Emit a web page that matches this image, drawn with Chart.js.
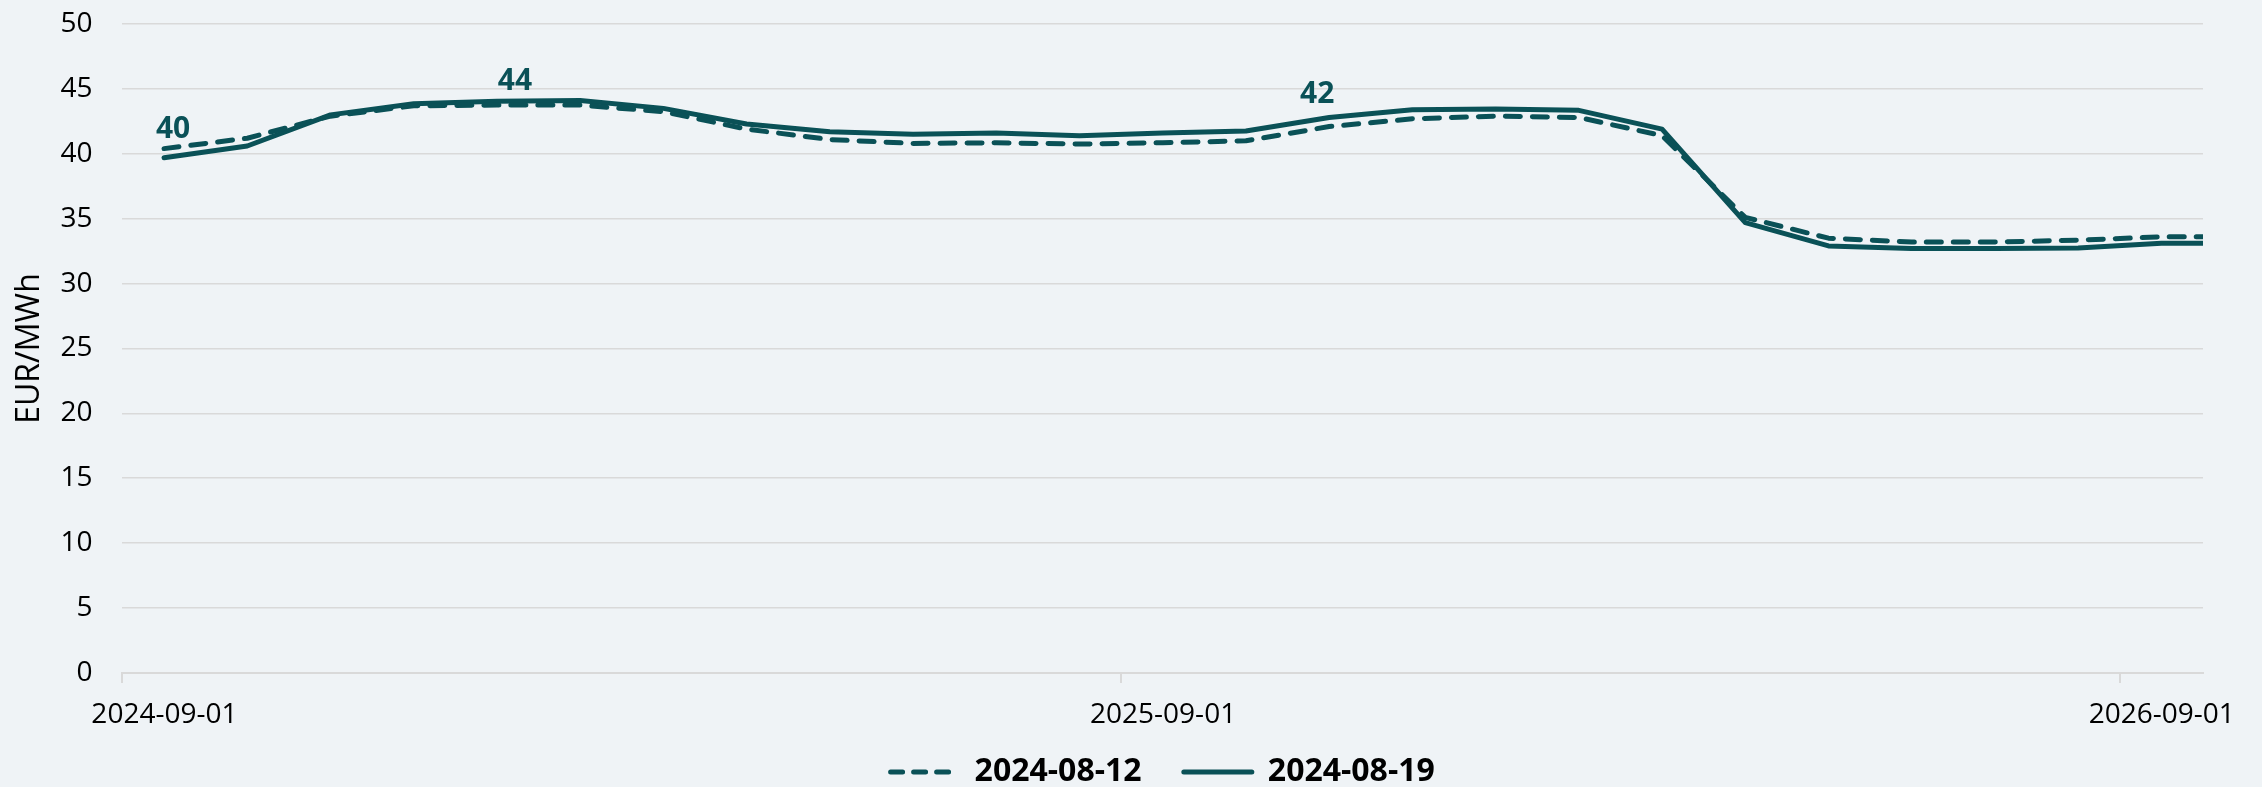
<!DOCTYPE html>
<html>
<head>
  <title>EUR/MWh forward curve</title>
  <script src="https://cdn.jsdelivr.net/npm/chart.js@4/dist/chart.umd.min.js"></script>
  <style>
    html, body { margin: 0; padding: 0; background: #eff3f6; }
    #wrap { width: 2262px; height: 787px; position: relative; }
  </style>
</head>
<body>
<div id="wrap"><canvas id="myCanvas"></canvas></div>
<script>
// ---------------- data ----------------
// one value per delivery month; the last month lies past the right edge and gets clipped
var months = [
  '2024-09-01', '2024-10-01', '2024-11-01', '2024-12-01', '2025-01-01', '2025-02-01',
  '2025-03-01', '2025-04-01', '2025-05-01', '2025-06-01', '2025-07-01', '2025-08-01',
  '2025-09-01', '2025-10-01', '2025-11-01', '2025-12-01', '2026-01-01', '2026-02-01',
  '2026-03-01', '2026-04-01', '2026-05-01', '2026-06-01', '2026-07-01', '2026-08-01',
  '2026-09-01', '2026-10-01'
];
var shownMonths = 25;
var xLabelMonths = ['2024-09-01', '2025-09-01', '2026-09-01'];
var curve0812 = [40.4, 41.2, 42.9, 43.7, 43.75, 43.75, 43.25, 41.9, 41.1, 40.8, 40.85, 40.75,
                 40.85, 41.0, 42.1, 42.7, 42.9, 42.8, 41.4, 35.1, 33.5, 33.2, 33.2, 33.35, 33.6, 33.6];
var curve0819 = [39.7, 40.6, 43.0, 43.85, 44.05, 44.1, 43.5, 42.3, 41.7, 41.5, 41.6, 41.4,
                 41.6, 41.75, 42.8, 43.4, 43.45, 43.35, 41.9, 34.7, 32.9, 32.7, 32.7, 32.75, 33.1, 33.1];
var seriesNames = ['2024-08-12', '2024-08-19'];
var labelPoints = [0, 4, 14];   // points of the 2024-08-12 curve that carry a value label
var yTicks = [0, 5, 10, 15, 20, 25, 30, 35, 40, 45, 50];

// ---------------- style ----------------
var teal = '#0a5157';
var gridCol = '#d9d9d9';
var fontName = '"Open Sans", sans-serif';

function toPoints(vals) {
  return vals.map(function(v, i) { return { x: i, y: v }; });
}

// value labels drawn above chosen points
var pointLabels = {
  id: 'pointLabels',
  afterDatasetsDraw: function(chart, args, opts) {
    var ctx = chart.ctx;
    var meta = chart.getDatasetMeta(0);
    ctx.save();
    ctx.font = 'bold 30px ' + fontName;
    ctx.fillStyle = teal;
    ctx.textAlign = 'center';
    ctx.textBaseline = 'middle';
    labelPoints.forEach(function(idx, k) {
      var pt = meta.data[idx];
      var sh = opts.shift[k];
      ctx.fillText(Math.round(curve0812[idx]).toString(), pt.x + sh[0], pt.y + sh[1]);
    });
    ctx.restore();
  }
};

var chart = new Chart(document.getElementById('myCanvas'), {
  type: 'line',
  data: {
    datasets: [{
      label: seriesNames[0],
      data: toPoints(curve0812),
      borderColor: teal,
      backgroundColor: teal,
      borderWidth: 5,
      borderDash: [15, 12],
      borderCapStyle: 'round',
      borderJoinStyle: 'round',
      pointRadius: 0,
      tension: 0
    }, {
      label: seriesNames[1],
      data: toPoints(curve0819),
      borderColor: teal,
      backgroundColor: teal,
      borderWidth: 5,
      borderCapStyle: 'round',
      borderJoinStyle: 'round',
      pointRadius: 0,
      tension: 0
    }]
  },
  options: {
    responsive: true,
    maintainAspectRatio: false,
    devicePixelRatio: 1,
    animation: false,
    layout: { padding: { left: 11, right: 59, top: 0, bottom: -11 } },
    plugins: {
      tooltip: { enabled: false },
      pointLabels: { shift: [[9, -19], [18, -24], [-12, -32]] },
      legend: {
        position: 'bottom',
        fullSize: false,
        labels: {
          usePointStyle: true,
          pointStyle: 'line',
          pointStyleWidth: 68,
          padding: 9,
          color: '#000',
          font: { family: fontName, size: 32, weight: 'bold' },
          generateLabels: function(ch) {
            var items = Chart.defaults.plugins.legend.labels.generateLabels(ch);
            items.forEach(function(it, i) {
              it.lineCap = 'round';
              it.lineWidth = 5;
              it.strokeStyle = teal;
              it.lineDash = i === 0 ? [12, 11] : [];
              if (i === 0) it.text = it.text + '    ';
            });
            return items;
          }
        }
      }
    },
    scales: {
      x: {
        type: 'linear',
        min: -0.5,
        max: shownMonths - 0.5,
        border: { display: true, color: gridCol, width: 2 },
        afterBuildTicks: function(axis) {
          axis.ticks = xLabelMonths.map(function(m) { return { value: months.indexOf(m) - 0.5 }; });
        },
        grid: {
          drawOnChartArea: false,
          drawTicks: true,
          tickLength: 10,
          lineWidth: 2,
          color: gridCol
        },
        ticks: {
          autoSkip: false,
          maxRotation: 0,
          padding: 0,
          labelOffset: 42,
          color: '#000',
          font: { family: fontName, size: 28, lineHeight: 2.286 },
          callback: function(v) { return months[v + 0.5]; }
        }
      },
      y: {
        min: 0,
        max: 50,
        border: { display: false },
        afterBuildTicks: function(axis) {
          axis.ticks = yTicks.map(function(v) { return { value: v }; });
        },
        grid: { color: gridCol, lineWidth: 1.6, drawTicks: true, tickLength: 20, tickColor: 'rgba(0,0,0,0)' },
        ticks: {
          padding: 10,
          color: '#000',
          font: { family: fontName, size: 28, lineHeight: 1 }
        },
        title: {
          display: true,
          text: 'EUR/MWh',
          color: '#000',
          padding: { top: 0, bottom: 1 },
          font: { family: fontName, size: 32 }
        }
      }
    }
  },
  plugins: [pointLabels]
});
</script>
</body>
</html>
